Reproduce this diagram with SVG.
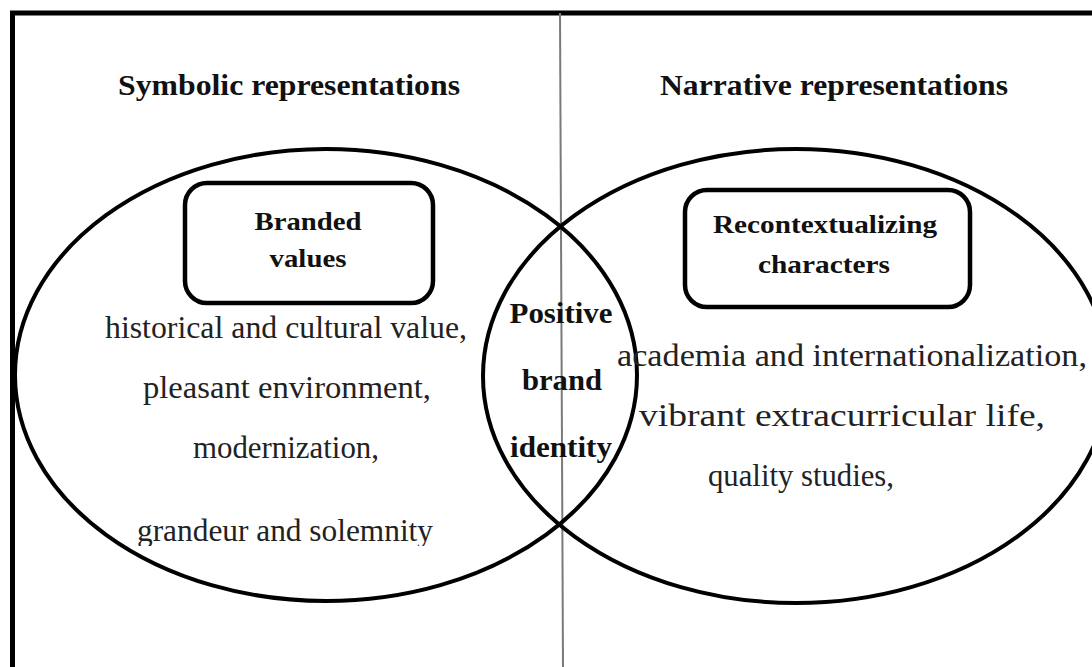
<svg xmlns="http://www.w3.org/2000/svg" width="1092" height="667" viewBox="0 0 1092 667">
<style>
.frame{fill:none;stroke:#000;stroke-width:5}
.div{stroke:#7a7a7a;stroke-width:2}
.ell{fill:none;stroke:#000;stroke-width:4}
.box{fill:#fff;stroke:#000;stroke-width:4.5}
.h{font-family:"Liberation Serif",serif;font-weight:bold;font-size:29px;fill:#111;text-anchor:middle}
.b{font-family:"Liberation Serif",serif;font-weight:bold;font-size:26px;fill:#111;text-anchor:middle}
.c{font-family:"Liberation Serif",serif;font-weight:bold;font-size:30px;fill:#111;text-anchor:middle}
.t{font-family:"Liberation Serif",serif;font-size:31px;fill:#222;text-anchor:middle}
</style>
<defs>
<clipPath id="clipLast"><rect x="0" y="0" width="1092" height="546"/></clipPath>
</defs>
<rect width="1092" height="667" fill="#fff"/>
<path class="frame" d="M12.5,667 V13 H1092"/>
<line class="div" x1="560" y1="13" x2="563" y2="667"/>
<g id="headings">
<text class="h" x="289" y="95" textLength="342" lengthAdjust="spacingAndGlyphs">Symbolic representations</text>
<text class="h" x="834" y="95" textLength="348" lengthAdjust="spacingAndGlyphs">Narrative representations</text>
</g>
<g id="symbolic">
<ellipse class="ell" cx="326" cy="375" rx="311" ry="226"/>
<text class="t" x="286" y="338" textLength="362" lengthAdjust="spacingAndGlyphs">historical and cultural value,</text>
<text class="t" x="287" y="398" textLength="288" lengthAdjust="spacingAndGlyphs">pleasant environment,</text>
<text class="t" x="286" y="458" textLength="186" lengthAdjust="spacingAndGlyphs">modernization,</text>
<text class="t" x="285" y="541" textLength="296" lengthAdjust="spacingAndGlyphs" clip-path="url(#clipLast)">grandeur and solemnity</text>
</g>
<g id="narrative">
<ellipse class="ell" cx="796" cy="376" rx="313" ry="227"/>
<text class="t" x="852" y="366" textLength="470" lengthAdjust="spacingAndGlyphs">academia and internationalization,</text>
<text class="t" x="842" y="426" textLength="406" lengthAdjust="spacingAndGlyphs">vibrant extracurricular life,</text>
<text class="t" x="801" y="486" textLength="186" lengthAdjust="spacingAndGlyphs">quality studies,</text>
</g>
<g id="branded-values">
<rect class="box" x="185" y="183" width="248" height="120" rx="22"/>
<text class="b" x="308" y="230" textLength="107" lengthAdjust="spacingAndGlyphs">Branded</text>
<text class="b" x="308" y="267" textLength="77" lengthAdjust="spacingAndGlyphs">values</text>
</g>
<g id="recontextualizing-characters">
<rect class="box" x="685" y="190" width="285" height="117" rx="22"/>
<text class="b" x="825" y="233" textLength="224" lengthAdjust="spacingAndGlyphs">Recontextualizing</text>
<text class="b" x="824" y="273" textLength="132" lengthAdjust="spacingAndGlyphs">characters</text>
</g>
<g id="positive-brand-identity">
<text class="c" x="561" y="323" textLength="103" lengthAdjust="spacingAndGlyphs">Positive</text>
<text class="c" x="562" y="390" textLength="80" lengthAdjust="spacingAndGlyphs">brand</text>
<text class="c" x="561" y="457" textLength="102" lengthAdjust="spacingAndGlyphs">identity</text>
</g>
<g id="connectors"></g>
</svg>
